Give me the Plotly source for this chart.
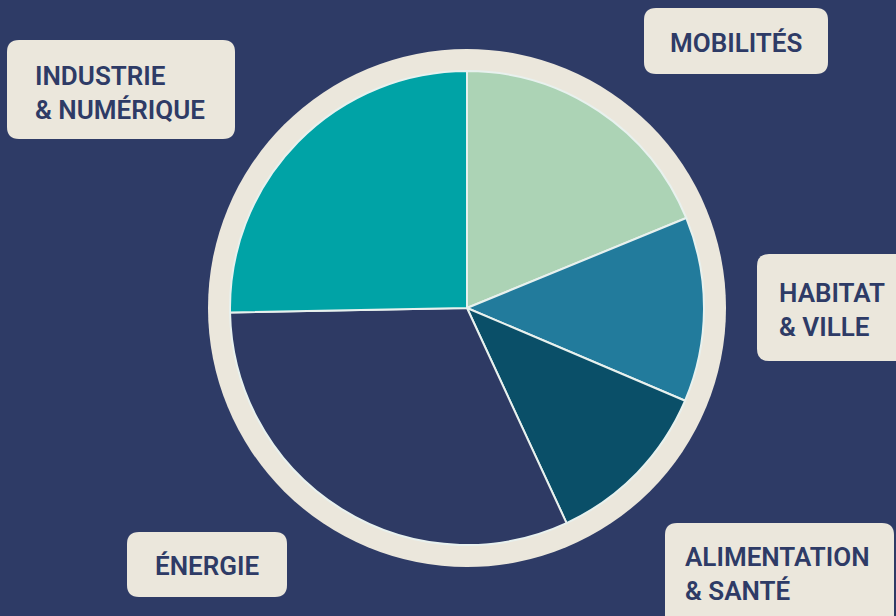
import plotly.graph_objects as go

# ---- data ----
categories = ["MOBILITÉS", "HABITAT<br>& VILLE", "ALIMENTATION<br>& SANTÉ", "ÉNERGIE", "INDUSTRIE<br>& NUMÉRIQUE"]
shares = [18.8, 12.6, 11.7, 31.6, 25.3]
slice_colors = ["#acd3b5", "#227b9c", "#0a4f68", "#2e3a64", "#00a3a6"]

BG = "#2e3b66"
BEIGE = "#ebe7dc"
NAVY = "#2e3b66"
W, H = 896, 616
cx, cy, r, r_ring = 467, 308, 237, 259

fig = go.Figure()

fig.add_trace(go.Pie(
    labels=[c.replace("<br>", " ") for c in categories],
    values=shares,
    sort=False,
    direction="clockwise",
    rotation=0,
    marker=dict(colors=slice_colors, line=dict(color="#e8f1ee", width=2)),
    textinfo="none",
    hoverinfo="label+percent",
    showlegend=False,
    domain=dict(x=[(cx - r) / W, (cx + r) / W], y=[(H - cy - r) / H, (H - cy + r) / H]),
))


def rrect(x0, y0, x1, y1, rad=12):
    return (f"M{x0+rad},{y0} L{x1-rad},{y0} Q{x1},{y0} {x1},{y0+rad} "
            f"L{x1},{y1-rad} Q{x1},{y1} {x1-rad},{y1} L{x0+rad},{y1} "
            f"Q{x0},{y1} {x0},{y1-rad} L{x0},{y0+rad} Q{x0},{y0} {x0+rad},{y0} Z")


shapes = [dict(type="circle", xref="x", yref="y", x0=cx - r_ring, x1=cx + r_ring,
               y0=cy - r_ring, y1=cy + r_ring, fillcolor=BEIGE, line=dict(width=0), layer="below")]

# label boxes: (label index, box, text x, text y, anchor)
boxes = [
    (0, (644, 8, 828, 74), 736, 43, "center"),
    (1, (757, 254, 910, 361), 777, 310, "left"),
    (2, (665, 523, 894, 630), 683, 574, "left"),
    (3, (127, 532, 287, 597), 207, 566, "center"),
    (4, (7, 40, 235, 139), 33, 93, "left"),
]
annotations = []
for i, (x0, y0, x1, y1), tx, ty, anc in boxes:
    shapes.append(dict(type="path", xref="x", yref="y", path=rrect(x0, y0, x1, y1),
                       fillcolor=BEIGE, line=dict(width=0), layer="below"))
    annotations.append(dict(x=tx, y=ty, xref="x", yref="y", text=categories[i], showarrow=False,
                            xanchor=anc, yanchor="middle", align="left",
                            font=dict(family="Roboto", size=26, color=NAVY, weight=600)))

fig.update_layout(
    width=W, height=H,
    margin=dict(l=0, r=0, t=0, b=0),
    paper_bgcolor=BG, plot_bgcolor=BG,
    xaxis=dict(range=[0, W], visible=False, fixedrange=True),
    yaxis=dict(range=[H, 0], visible=False, fixedrange=True),
    shapes=shapes,
    annotations=annotations,
)

fig.write_html("out.html", config={"displayModeBar": False},
               post_script="document.body.style.margin='0';document.body.style.background='%s';" % BG)
